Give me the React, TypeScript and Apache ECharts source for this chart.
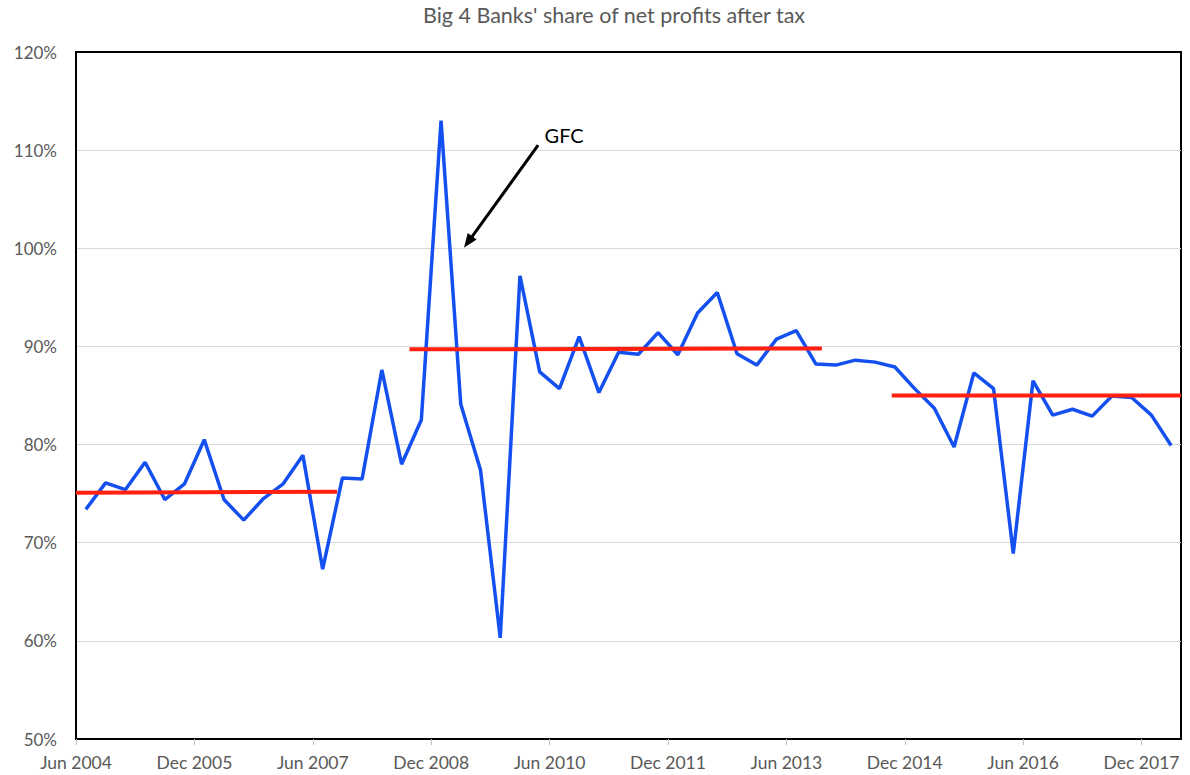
import React, { useEffect, useRef } from "react";
import * as echarts from "echarts";

// Quarter names (one per data point); ticks sit at the start of each quarter band
const quarters: string[] = [
  "Jun 2004", "Sep 2004", "Dec 2004", "Mar 2005", "Jun 2005", "Sep 2005", "Dec 2005", "Mar 2006",
  "Jun 2006", "Sep 2006", "Dec 2006", "Mar 2007", "Jun 2007", "Sep 2007", "Dec 2007", "Mar 2008",
  "Jun 2008", "Sep 2008", "Dec 2008", "Mar 2009", "Jun 2009", "Sep 2009", "Dec 2009", "Mar 2010",
  "Jun 2010", "Sep 2010", "Dec 2010", "Mar 2011", "Jun 2011", "Sep 2011", "Dec 2011", "Mar 2012",
  "Jun 2012", "Sep 2012", "Dec 2012", "Mar 2013", "Jun 2013", "Sep 2013", "Dec 2013", "Mar 2014",
  "Jun 2014", "Sep 2014", "Dec 2014", "Mar 2015", "Jun 2015", "Sep 2015", "Dec 2015", "Mar 2016",
  "Jun 2016", "Sep 2016", "Dec 2016", "Mar 2017", "Jun 2017", "Sep 2017", "Dec 2017", "Mar 2018",
];

// Big 4 share of net profits after tax (%)
const shareValues: number[] = [
  73.4, 76.1, 75.4, 78.2, 74.4, 76.0, 80.5, 74.4, 72.3, 74.5, 76.0, 78.9, 67.3, 76.6,
  76.5, 87.6, 78.0, 82.5, 113.0, 84.1, 77.4, 60.3, 97.2, 87.4, 85.7, 91.0, 85.3, 89.4,
  89.2, 91.4, 89.15, 93.4, 95.5, 89.25, 88.1, 90.75, 91.6, 88.2, 88.1, 88.6, 88.4, 87.9,
  85.7, 83.7, 79.75, 87.3, 85.7, 68.9, 86.5, 83.0, 83.6, 82.9, 84.95, 84.8, 83.0, 79.9,
];

// Period-average segments (in quarter units along the axis)
const avgStart: number[] = [0, 16.9, 41.34];
const avgEnd: number[] = [13.23, 37.8, 56];
const avgStartValue: number[] = [75.1, 89.7, 85.0];
const avgEndValue: number[] = [75.2, 89.8, 85.0];

// Tick every 6 quarters
const tickStep = 6;
const tickPositions: number[] = quarters.map((_, i) => i).filter((i) => i % tickStep === 0);

const yTicks: number[] = [50, 60, 70, 80, 90, 100, 110, 120];

const titleText = "Big 4 Banks' share of net profits after tax";
const annotationText = "GFC";

const FONT = "Lato, 'Open Sans', sans-serif";

export default function App() {
  const ref = useRef<HTMLDivElement>(null);

  useEffect(() => {
    if (!ref.current) return;
    const chart = echarts.init(ref.current, null, { renderer: "svg" });

    const avgSeries = avgStart.map((s, k) => ({
      type: "line" as const,
      name: "avg" + k,
      data: [
        [s, avgStartValue[k]],
        [avgEnd[k], avgEndValue[k]],
      ],
      showSymbol: false,
      symbol: "none",
      silent: true,
      z: 5,
      lineStyle: { color: "#FF2010", width: 4 },
    }));

    chart.setOption({
      animation: false,
      backgroundColor: "#ffffff",
      grid: {
        left: 76,
        right: 9,
        top: 52,
        bottom: 36,
        show: true,
        borderColor: "#000000",
        borderWidth: 2,
        backgroundColor: "transparent",
      },
      graphic: [
        {
          type: "text",
          x: 614,
          y: 15,
          style: {
            text: titleText,
            align: "center",
            verticalAlign: "middle",
            fontSize: 21.5,
            fontFamily: FONT,
            fill: "#595959",
          },
        },
      ],
      xAxis: {
        type: "value",
        min: 0,
        max: quarters.length,
        interval: tickStep,
        splitLine: { show: false },
        axisLine: { show: true, lineStyle: { color: "#000000", width: 2 } },
        axisTick: {
          show: true,
          customValues: tickPositions,
          length: 6,
          lineStyle: { color: "#bfbfbf", width: 1 },
        },
        axisLabel: {
          customValues: tickPositions,
          formatter: (v: number) => quarters[Math.round(v)] ?? "",
          color: "#595959",
          fontSize: 17.5,
          fontFamily: FONT,
          margin: 14,
        },
      },
      yAxis: {
        type: "value",
        min: yTicks[0],
        max: yTicks[yTicks.length - 1],
        interval: 10,
        axisLine: { show: true, lineStyle: { color: "#000000", width: 2 } },
        axisTick: { show: false },
        splitLine: {
          show: true,
          showMinLine: false,
          showMaxLine: false,
          lineStyle: { color: "#d9d9d9", width: 1 },
        },
        axisLabel: {
          formatter: (v: number) => v + "%",
          color: "#595959",
          fontSize: 17,
          fontFamily: FONT,
          margin: 19,
        },
      },
      series: [
        {
          type: "line",
          name: "share",
          data: shareValues.map((v, i) => [i + 0.5, v]),
          showSymbol: false,
          symbol: "none",
          z: 3,
          lineStyle: { color: "#1450F0", width: 3.5 },
          markLine: {
            silent: true,
            symbol: ["none", "triangle"],
            symbolSize: [11, 14],
            label: { show: false },
            lineStyle: { color: "#000000", width: 3, type: "solid" },
            data: [[{ coord: [23.42, 110.5] }, { coord: [19.87, 100.64] }]],
          },
          markPoint: {
            silent: true,
            symbol: "circle",
            symbolSize: 1,
            itemStyle: { color: "transparent" },
            label: {
              show: true,
              position: "right",
              distance: 0,
              formatter: annotationText,
              color: "#000000",
              fontSize: 20,
              fontFamily: FONT,
            },
            data: [{ coord: [23.72, 111.5] }],
          },
        },
        ...avgSeries,
      ],
    });

    return () => chart.dispose();
  }, []);

  return (
    <div
      ref={ref}
      style={{ position: "fixed", left: 0, top: 0, width: 1190, height: 775, background: "#fff" }}
    />
  );
}
